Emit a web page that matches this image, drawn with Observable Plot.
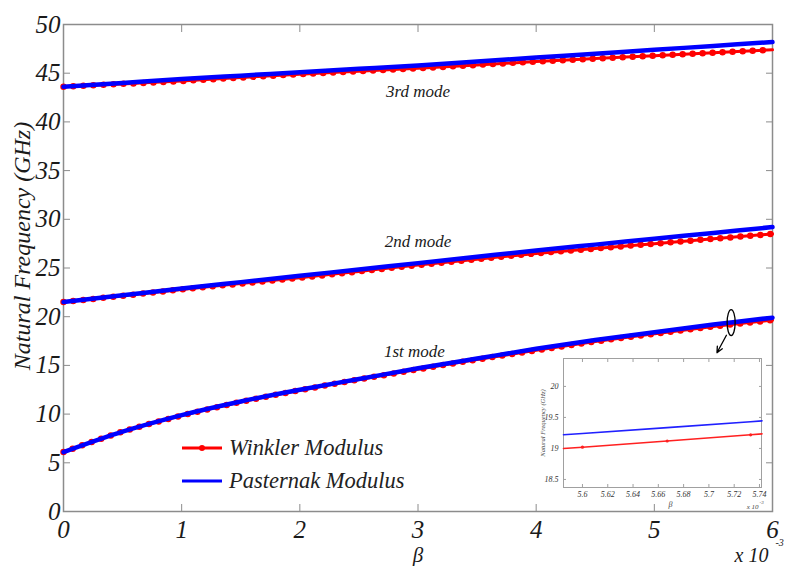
<!DOCTYPE html>
<html>
<head>
<meta charset="utf-8">
<script src="https://cdn.jsdelivr.net/npm/d3@7"></script>
<script src="https://cdn.jsdelivr.net/npm/@observablehq/plot@0.6"></script>
<style>
  html, body { margin: 0; padding: 0; background: #fff; }
  #wrap { position: relative; width: 785px; height: 566px; overflow: hidden; font-family: "Liberation Serif", "Times New Roman", serif; font-style: italic; }
  #inset { position: absolute; left: 530px; top: 350px; }
  #legend { position: absolute; left: 180px; top: 431px; font-size: 22.5px; color: #222; line-height: 33px; }
  #legend .row { display: flex; align-items: center; height: 33px; }
  #legend svg { margin-right: 5px; }
</style>
</head>
<body>
<div id="wrap">
  <div id="main"></div>
  <div id="legend">
    <div class="row"><svg width="44" height="12"><line x1="2" y1="6" x2="42" y2="6" stroke="#ff0000" stroke-width="3"/><circle cx="22" cy="6" r="3" fill="#ff0000"/></svg><span>Winkler Modulus</span></div>
    <div class="row"><svg width="44" height="12"><line x1="2" y1="6" x2="42" y2="6" stroke="#0000ff" stroke-width="3"/></svg><span>Pasternak Modulus</span></div>
  </div>
  <div id="inset"></div>
</div>
<script>
// ---- main chart data (beta in units of 1e-3) ----
const beta = [0, 0.5, 1, 1.5, 2, 2.5, 3, 3.5, 4, 4.5, 5, 5.5, 6];
const winkler1   = [6.1, 8.2, 9.85, 11.25, 12.45, 13.55, 14.6, 15.6, 16.55, 17.45, 18.25, 19.0, 19.65];
const pasternak1 = [6.1, 8.2, 9.9, 11.3, 12.5, 13.6, 14.7, 15.7, 16.7, 17.6, 18.4, 19.2, 19.9];
const winkler2   = [21.5, 22.15, 22.8, 23.4, 24.0, 24.65, 25.3, 25.9, 26.5, 27.0, 27.5, 28.0, 28.5];
const pasternak2 = [21.5, 22.2, 22.9, 23.55, 24.2, 24.85, 25.5, 26.15, 26.8, 27.4, 28.0, 28.6, 29.2];
const winkler3   = [43.6, 43.9, 44.2, 44.55, 44.9, 45.2, 45.5, 45.85, 46.2, 46.5, 46.8, 47.1, 47.4];
const pasternak3 = [43.6, 44.0, 44.4, 44.75, 45.1, 45.45, 45.8, 46.2, 46.6, 47.0, 47.4, 47.8, 48.2];

const xTicks = [0, 1, 2, 3, 4, 5, 6];
const yTicks = [0, 5, 10, 15, 20, 25, 30, 35, 40, 45, 50];
const modeLabels = ["1st mode", "2nd mode", "3rd mode"];
const modeLabelBeta = [2.97, 3.0, 3.0];
const modeLabelFreq = [16.4, 27.7, 43.1];

// annotation (zoom marker) in data units
const zoomMarkBeta = [5.65];
const zoomMarkFreq = [19.4];
const arrowFrom = [5.61, 18.1];
const arrowTo = [5.53, 16.3];

// ---- inset data (beta in units of 1e-3) ----
const insetBeta = [5.585, 5.6, 5.667, 5.733, 5.742];
const insetWinkler = [19.0, 19.02, 19.12, 19.22, 19.235];
const insetPasternak = [19.22, 19.24, 19.335, 19.43, 19.445];
const insetXTicks = [5.6, 5.62, 5.64, 5.66, 5.68, 5.7, 5.72, 5.74];
const insetYTicks = [18.5, 19, 19.5, 20];

// ---- build tables ----
const seriesW = [winkler1, winkler2, winkler3];
const seriesP = [pasternak1, pasternak2, pasternak3];
const redRows = [], blueRows = [];
seriesW.forEach((s, m) => s.forEach((v, i) => redRows.push({beta: beta[i], f: v, mode: m})));
seriesP.forEach((s, m) => s.forEach((v, i) => blueRows.push({beta: beta[i], f: v, mode: m})));
const labelRows = modeLabels.map((t, i) => ({t, beta: modeLabelBeta[i], f: modeLabelFreq[i]}));

const gray = "#8c8c8c";
const ink = "#1a1a1a";
const serif = "'Liberation Serif', 'Times New Roman', serif";

const ellipse = {
  draw(ctx) {
    const rx = 4, ry = 13, k = 0.5523;
    ctx.moveTo(rx, 0);
    ctx.bezierCurveTo(rx, k * ry, k * rx, ry, 0, ry);
    ctx.bezierCurveTo(-k * rx, ry, -rx, k * ry, -rx, 0);
    ctx.bezierCurveTo(-rx, -k * ry, -k * rx, -ry, 0, -ry);
    ctx.bezierCurveTo(k * rx, -ry, rx, -k * ry, rx, 0);
    ctx.closePath();
  }
};

const innerX = xTicks.slice(1, -1);
const innerY = yTicks.slice(1, -1);
const fmtInt = d => String(d);

const main = Plot.plot({
  width: 785, height: 566,
  marginLeft: 63, marginRight: 13, marginTop: 24, marginBottom: 55,
  x: {domain: [0, 6]},
  y: {domain: [0, 50]},
  style: {fontFamily: serif, fontStyle: "italic", color: ink, background: "white", overflow: "visible"},
  marks: [
    // inward ticks on all four sides
    Plot.axisX(innerX, {anchor: "bottom", tickSize: -7, tickFormat: () => "", stroke: gray, label: null}),
    Plot.axisX(innerX, {anchor: "top", tickSize: -7, tickFormat: () => "", stroke: gray, label: null}),
    Plot.axisY(innerY, {anchor: "left", tickSize: -7, tickFormat: () => "", stroke: gray, label: null}),
    Plot.axisY(innerY, {anchor: "right", tickSize: -7, tickFormat: () => "", stroke: gray, label: null}),
    // tick labels
    Plot.axisX(xTicks, {anchor: "bottom", tickSize: 0, tickPadding: 9, fontSize: 25, tickFormat: fmtInt, label: null, fill: ink}),
    Plot.axisY(yTicks, {anchor: "left", tickSize: 0, tickPadding: 3, fontSize: 25, tickFormat: fmtInt, label: null, fill: ink}),
    Plot.frame({stroke: gray, strokeWidth: 1.5}),
    // Winkler (red, with markers)
    Plot.line(redRows, {x: "beta", y: "f", z: "mode", stroke: "#ff0000", strokeWidth: 3, curve: "catmull-rom"}),
    Plot.line(redRows, {x: "beta", y: "f", z: "mode", stroke: "#ff0000", strokeWidth: 6.5, strokeDasharray: "0,10", strokeLinecap: "round", curve: "catmull-rom"}),
    // Pasternak (blue)
    Plot.line(blueRows, {x: "beta", y: "f", z: "mode", stroke: "#0000ff", strokeWidth: 4.5, curve: "catmull-rom"}),
    // mode labels
    Plot.text(labelRows, {x: "beta", y: "f", text: "t", fontSize: 17, fill: ink}),
    // zoom marker
    Plot.dot(zoomMarkBeta.map((b, i) => ({b, f: zoomMarkFreq[i]})), {x: "b", y: "f", symbol: ellipse, stroke: "#000", strokeWidth: 1.3, fill: "none"}),
    Plot.arrow([{x1: arrowFrom[0], y1: arrowFrom[1], x2: arrowTo[0], y2: arrowTo[1]}], {x1: "x1", y1: "y1", x2: "x2", y2: "y2", stroke: "#000", strokeWidth: 1.3, headLength: 9, headAngle: 50}),
    // axis labels
    Plot.text(["Natural Frequency (GHz)"], {frameAnchor: "left", dx: -41, dy: -22, rotate: -90, textAnchor: "middle", lineAnchor: "middle", fontSize: 24, fill: ink}),
    Plot.text(["\u03B2"], {frameAnchor: "bottom", dy: 44, textAnchor: "middle", lineAnchor: "middle", fontSize: 21, fill: ink}),
    Plot.text(["x 10"], {frameAnchor: "bottom-right", dx: -4, dy: 44, textAnchor: "end", lineAnchor: "middle", fontSize: 20, fill: ink}),
    Plot.text(["-3"], {frameAnchor: "bottom-right", dx: 3, dy: 31, textAnchor: "start", lineAnchor: "middle", fontSize: 10, fill: ink})
  ]
});
document.getElementById("main").append(main);

// ---- inset ----
const insetRowsW = insetBeta.map((b, i) => ({b, f: insetWinkler[i]}));
const insetRowsP = insetBeta.map((b, i) => ({b, f: insetPasternak[i]}));
const fmtIn = d => String(+d.toFixed(2));
const inset = Plot.plot({
  width: 255, height: 165,
  marginLeft: 33, marginRight: 24, marginTop: 8, marginBottom: 28,
  x: {domain: [5.585, 5.7416]},
  y: {domain: [18.37, 20.45]},
  style: {fontFamily: serif, fontStyle: "italic", color: "#333", background: "transparent", overflow: "visible"},
  marks: [
    Plot.frame({fill: "white", stroke: "#a0a0a0", strokeWidth: 1}),
    Plot.axisX(insetXTicks, {anchor: "bottom", tickSize: -3, tickFormat: () => "", stroke: "#a0a0a0", label: null}),
    Plot.axisX(insetXTicks, {anchor: "top", tickSize: -3, tickFormat: () => "", stroke: "#a0a0a0", label: null}),
    Plot.axisY(insetYTicks, {anchor: "left", tickSize: -3, tickFormat: () => "", stroke: "#a0a0a0", label: null}),
    Plot.axisY(insetYTicks, {anchor: "right", tickSize: -3, tickFormat: () => "", stroke: "#a0a0a0", label: null}),
    Plot.axisX(insetXTicks, {anchor: "bottom", tickSize: 0, tickPadding: 4, fontSize: 8, tickFormat: fmtIn, label: null}),
    Plot.axisY(insetYTicks, {anchor: "left", tickSize: 0, tickPadding: 5, fontSize: 8, tickFormat: fmtIn, label: null}),
    Plot.line(insetRowsW, {x: "b", y: "f", stroke: "#ff2020", strokeWidth: 1.6}),
    Plot.dot(insetRowsW.slice(1, 4), {x: "b", y: "f", r: 1.6, fill: "#ff2020"}),
    Plot.line(insetRowsP, {x: "b", y: "f", stroke: "#2020ff", strokeWidth: 1.6}),
    Plot.text(["Natural Frequency (GHz)"], {frameAnchor: "left", dx: -21, rotate: -90, textAnchor: "middle", lineAnchor: "middle", fontSize: 6.5, fill: "#444"}),
    Plot.text(["\u03B2"], {frameAnchor: "bottom", dx: 8, dy: 17, textAnchor: "middle", lineAnchor: "middle", fontSize: 8, fill: "#444"}),
    Plot.text(["x 10"], {frameAnchor: "bottom-right", dx: -3, dy: 19, textAnchor: "end", lineAnchor: "middle", fontSize: 7, fill: "#444"}),
    Plot.text(["-3"], {frameAnchor: "bottom-right", dx: -2, dy: 15, textAnchor: "start", lineAnchor: "middle", fontSize: 5, fill: "#444"})
  ]
});
document.getElementById("inset").append(inset);
</script>
</body>
</html>
